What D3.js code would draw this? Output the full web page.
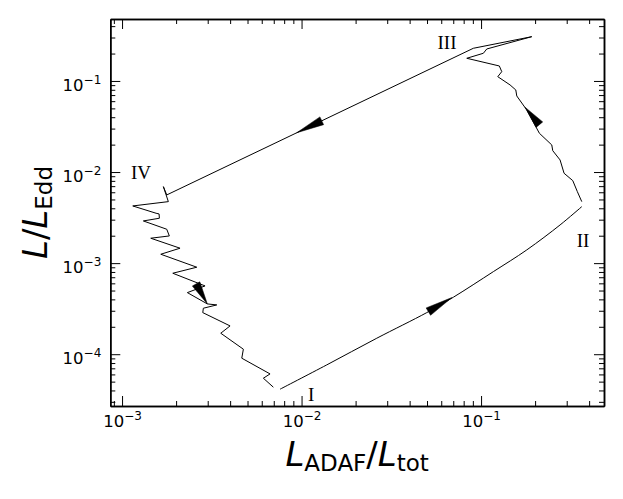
<!DOCTYPE html>
<html>
<head>
<meta charset="utf-8">
<script src="https://cdn.jsdelivr.net/npm/d3@7"></script>
<style>
  body { margin: 0; background: #fff; }
  svg { display: block; }
</style>
</head>
<body>
<div id="chart"></div>
<script>
// cycle I -> II -> III -> IV -> I
// leg I -> II (smooth)
const legA_x = [0.00759, 0.01381, 0.02624, 0.04982, 0.07011, 0.1171, 0.1797, 0.2755, 0.3639]
const legA_y = [4.13e-5, 7.63e-5, 1.498e-4, 2.862e-4, 4.224e-4, 8.065e-4, 1.396e-3, 2.626e-3, 4.17e-3]

// leg II -> III
const legB_x = [0.3639, 0.3439, 0.3243, 0.2900, 0.2755, 0.2508, 0.2477, 0.2113, 0.1797, 0.1581,
  0.1561, 0.1451, 0.1239, 0.1304, 0.1264, 0.08324, 0.1030, 0.1076, 0.1916]
const legB_y = [4.733e-3, 6.093e-3, 8.044e-3, 9.70e-3, 0.01358, 0.01717, 0.01984, 0.02666, 0.04805, 0.06843,
  0.07965, 0.09039, 0.1115, 0.1265, 0.1461, 0.1775, 0.2014, 0.2245, 0.3064]

// leg III -> IV
const legC_x = [0.1916, 0.09060, 1.774e-3, 1.699e-3, 1.811e-3]
const legC_y = [0.3064, 0.2285, 5.605e-3, 6.914e-3, 4.733e-3]

// leg IV -> I
const legD_x = [1.811e-3, 1.147e-3, 1.547e-3, 1.608e-3, 1.614e-3, 1.314e-3, 1.774e-3, 1.834e-3, 1.445e-3,
  2.104e-3, 1.643e-3, 2.608e-3, 1.917e-3, 2.900e-3, 2.311e-3, 2.987e-3, 3.370e-3, 2.837e-3, 2.816e-3,
  3.997e-3, 3.547e-3, 4.740e-3, 4.644e-3, 6.675e-3, 6.127e-3, 6.964e-3]
const legD_y = [4.733e-3, 4.245e-3, 3.53e-3, 3.467e-3, 3.11e-3, 2.905e-3, 2.355e-3, 1.988e-3, 1.877e-3,
  1.458e-3, 1.252e-3, 9.02e-4, 7.745e-4, 5.62e-4, 4.745e-4, 3.565e-4, 3.477e-4, 3.198e-4, 2.862e-4,
  2.045e-4, 1.70e-4, 1.135e-4, 9.04e-5, 6.077e-5, 5.451e-5, 4.343e-5]

// direction arrows (tail -> tip)
const arrowTailX = [0.05085, 0.2113, 0.01296, 2.585e-3]
const arrowTailY = [2.935e-4, 0.03314, 0.03656, 5.91e-4]
const arrowTipX = [0.06869, 0.1758, 9.40e-3, 2.987e-3]
const arrowTipY = [4.181e-4, 0.05145, 0.02700, 3.565e-4]

// stage labels
const stageNames = ['I', 'II', 'III', 'IV']
const stageX = [0.01130, 0.370, 0.0646, 1.276e-3]
const stageY = [3.67e-5, 1.80e-3, 0.268, 0.01]

// axes
const xDomain = [8.6e-4, 0.484]
const yDomain = [2.7e-5, 0.479]
const xMajor = [1e-3, 1e-2, 1e-1]
const yMajor = [1e-4, 1e-3, 1e-2, 1e-1]
const xExp = ['\u22123', '\u22122', '\u22121']
const yExp = ['\u22124', '\u22123', '\u22122', '\u22121']

const W = 623, H = 499
const margin = { top: 19, right: 19, bottom: 93, left: 110.3 }
const iw = W - margin.left - margin.right
const ih = H - margin.top - margin.bottom
const font = 'DejaVu Sans, sans-serif'

const svg = d3.select('#chart').append('svg')
  .attr('width', W).attr('height', H)
const g = svg.append('g')
  .attr('transform', 'translate(' + margin.left + ',' + margin.top + ')')

const x = d3.scaleLog().domain(xDomain).range([0, iw])
const y = d3.scaleLog().domain(yDomain).range([ih, 0])

function minors (dom) {
  const out = []
  for (let e = -6; e <= 1; e++) {
    for (let k = 2; k <= 9; k++) {
      const v = k * Math.pow(10, e)
      if (v > dom[0] && v < dom[1]) out.push(v)
    }
  }
  return out
}
const xMinor = minors(xDomain)
const yMinor = minors(yDomain)

function styleAxis (sel) {
  sel.select('.domain').attr('stroke', '#000').attr('stroke-width', 1.5)
  sel.selectAll('.tick line').attr('stroke', '#000').attr('stroke-width', 1)
}

// minor ticks (inward, all four sides)
g.append('g').attr('transform', 'translate(0,' + ih + ')')
  .call(d3.axisBottom(x).tickValues(xMinor).tickSize(-5).tickSizeOuter(0).tickFormat(''))
  .call(styleAxis)
g.append('g')
  .call(d3.axisTop(x).tickValues(xMinor).tickSize(-5).tickSizeOuter(0).tickFormat(''))
  .call(styleAxis)
g.append('g')
  .call(d3.axisLeft(y).tickValues(yMinor).tickSize(-5).tickSizeOuter(0).tickFormat(''))
  .call(styleAxis)
g.append('g').attr('transform', 'translate(' + iw + ',0)')
  .call(d3.axisRight(y).tickValues(yMinor).tickSize(-5).tickSizeOuter(0).tickFormat(''))
  .call(styleAxis)

// major ticks
const xb = g.append('g').attr('transform', 'translate(0,' + ih + ')')
  .call(d3.axisBottom(x).tickValues(xMajor).tickSize(-10).tickSizeOuter(0).tickPadding(9))
  .call(styleAxis)
g.append('g')
  .call(d3.axisTop(x).tickValues(xMajor).tickSize(-10).tickSizeOuter(0).tickFormat(''))
  .call(styleAxis)
const yl = g.append('g')
  .call(d3.axisLeft(y).tickValues(yMajor).tickSize(-10).tickSizeOuter(0).tickPadding(9))
  .call(styleAxis)
g.append('g').attr('transform', 'translate(' + iw + ',0)')
  .call(d3.axisRight(y).tickValues(yMajor).tickSize(-10).tickSizeOuter(0).tickFormat(''))
  .call(styleAxis)

// power-of-ten labels
function powLabels (sel, exps) {
  sel.selectAll('.tick text').each(function (d, i) {
    const t = d3.select(this).text(null)
      .attr('font-family', font).attr('font-size', 16.5).attr('fill', '#000')
    t.append('tspan').text('10')
    t.append('tspan').attr('font-size', 12).attr('dy', -7).text(exps[i])
  })
}
powLabels(xb, xExp)
powLabels(yl, yExp)
yl.selectAll('.tick text').attr('dy', '0.55em')

// curves
const lineLin = d3.line().x(d => x(d[0])).y(d => y(d[1]))
const lineSmooth = d3.line().x(d => x(d[0])).y(d => y(d[1])).curve(d3.curveCatmullRom)
const legs = [
  { xs: legA_x, ys: legA_y, gen: lineSmooth },
  { xs: legB_x, ys: legB_y, gen: lineLin },
  { xs: legC_x, ys: legC_y, gen: lineLin },
  { xs: legD_x, ys: legD_y, gen: lineLin }
]
g.selectAll('.leg').data(legs).enter().append('path')
  .attr('class', 'leg')
  .attr('fill', 'none').attr('stroke', '#000').attr('stroke-width', 1)
  .attr('stroke-linejoin', 'miter')
  .attr('d', d => d.gen(d.xs.map((v, i) => [v, d.ys[i]])))

// arrow heads
const arrows = arrowTipX.map((v, i) => ({
  tx: x(arrowTailX[i]), ty: y(arrowTailY[i]), hx: x(v), hy: y(arrowTipY[i])
}))
g.selectAll('.arrow').data(arrows).enter().append('path')
  .attr('class', 'arrow').attr('fill', '#000').attr('stroke', '#000').attr('stroke-width', 0.5)
  .attr('d', function (a) {
    const dx = a.hx - a.tx, dy = a.hy - a.ty
    const L = Math.sqrt(dx * dx + dy * dy)
    const nx = -dy / L * 4.3, ny = dx / L * 4.3
    return 'M' + a.hx + ',' + a.hy + 'L' + (a.tx + nx) + ',' + (a.ty + ny) +
      'L' + (a.tx - nx) + ',' + (a.ty - ny) + 'Z'
  })

// stage labels
g.selectAll('.stage').data(stageNames).enter().append('text')
  .attr('class', 'stage')
  .attr('x', (d, i) => x(stageX[i])).attr('y', (d, i) => y(stageY[i]))
  .attr('dy', '0.35em').attr('text-anchor', 'middle')
  .attr('font-family', 'Liberation Serif, serif').attr('font-size', 19)
  .text(d => d)

// axis titles
const xt = svg.append('text')
  .attr('x', margin.left + iw / 2).attr('y', 466)
  .attr('text-anchor', 'middle').attr('font-family', font).attr('font-size', 34)
xt.append('tspan').attr('font-style', 'italic').text('L')
xt.append('tspan').attr('font-size', 23).attr('dy', 5).text('ADAF')
xt.append('tspan').attr('dy', -5).text('/')
xt.append('tspan').attr('font-style', 'italic').text('L')
xt.append('tspan').attr('font-size', 23).attr('dy', 5).text('tot')

const yt = svg.append('text')
  .attr('transform', 'translate(47,' + (margin.top + ih / 2) + ') rotate(-90)')
  .attr('text-anchor', 'middle').attr('font-family', font).attr('font-size', 34)
yt.append('tspan').attr('font-style', 'italic').text('L')
yt.append('tspan').text('/')
yt.append('tspan').attr('font-style', 'italic').text('L')
yt.append('tspan').attr('font-size', 23).attr('dy', 5).text('Edd')
</script>
</body>
</html>
